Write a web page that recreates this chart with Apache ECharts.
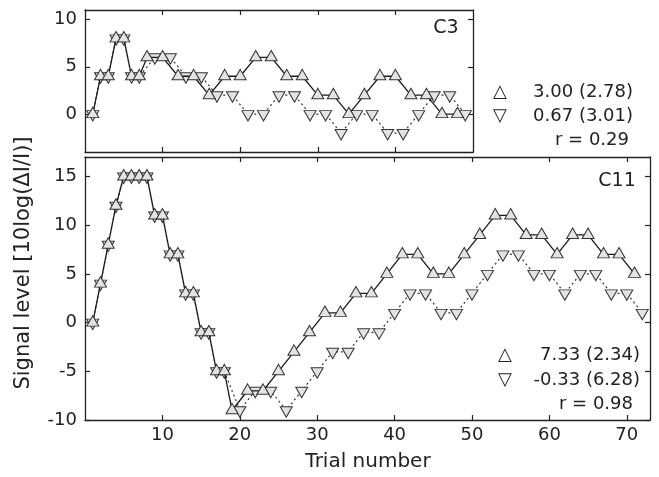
<!DOCTYPE html>
<html>
<head>
<meta charset="utf-8">
<script src="https://cdn.jsdelivr.net/npm/echarts@6/dist/echarts.min.js"></script>
<style>
html,body{margin:0;padding:0;background:#fff;}
#chart{width:659px;height:477px;}
</style>
</head>
<body>
<div id="chart"></div>
<script>
// ---- Data: panel C3 ----
const c3UpTrials   = [1,2,3,4,5,6,7,8,10,12,14,16,18,20,22,24,26,28,30,32,34,36,38,40,42,44,46,48];
const c3UpValues   = [0,4,4,8,8,4,4,6,6,4,4,2,4,4,6,6,4,4,2,2,0,2,4,4,2,2,0,0];
const c3DownTrials = [1,2,3,4,5,6,7,9,11,13,15,17,19,21,23,25,27,29,31,33,35,37,39,41,43,45,47,49];
const c3DownValues = [0,4,4,8,8,4,4,6,6,4,4,2,2,0,0,2,2,0,0,-2,0,0,-2,-2,0,2,2,0];

// ---- Data: panel C11 ----
const c11UpTrials   = [1,2,3,4,5,6,7,8,9,10,11,12,13,14,15,16,17,18,19,21,23,25,27,29,31,33,35,37,39,41,43,45,47,49,51,53,55,57,59,61,63,65,67,69,71];
const c11UpValues   = [0,4,8,12,15,15,15,15,11,11,7,7,3,3,-1,-1,-5,-5,-9,-7,-7,-5,-3,-1,1,1,3,3,5,7,7,5,5,7,9,11,11,9,9,7,9,9,7,7,5];
const c11DownTrials = [1,2,3,4,5,6,7,8,9,10,11,12,13,14,15,16,17,18,20,22,24,26,28,30,32,34,36,38,40,42,44,46,48,50,52,54,56,58,60,62,64,66,68,70,72];
const c11DownValues = [0,4,8,12,15,15,15,15,11,11,7,7,3,3,-1,-1,-5,-5,-9,-7,-7,-9,-7,-5,-3,-3,-1,-1,1,3,3,1,1,3,5,7,7,5,5,3,5,5,3,3,1];

// ---- Tick labels & annotations ----
const xTickValues = [10,20,30,40,50,60,70];
const c3XTicks = [10,20,30,40];
const c3YTicks = [0,5,10];
const c11YTicks = [-10,-5,0,5,10,15];
const c3Stats = ['3.00 (2.78)', '0.67 (3.01)', 'r = 0.29'];
const c11Stats = ['7.33 (2.34)', '-0.33 (6.28)', 'r = 0.98'];

const FONT = 'DejaVu Sans';
const TXT = '#222';
const AX = '#222';

function pairs(xs, ys){ return xs.map((x,i)=>[x, ys[i]]); }

function xAx(gridIndex, max, ticks, pos, labels){
  return {
    type:'value', gridIndex, min:0, max, position:pos,
    axisLine:{show:true, onZero:false, lineStyle:{color:AX, width:1.3}},
    axisTick:{show:true, inside:true, length:5, customValues:ticks, lineStyle:{color:AX, width:1.2}},
    axisLabel:{show:labels, customValues:ticks, margin:6, color:TXT, fontFamily:FONT, fontSize:18},
    splitLine:{show:false}
  };
}
function yAx(gridIndex, min, max, ticks, pos, labels){
  return {
    type:'value', gridIndex, min, max, position:pos,
    axisLine:{show:true, onZero:false, lineStyle:{color:AX, width:1.3}},
    axisTick:{show:true, inside:true, length:5, customValues:ticks, lineStyle:{color:AX, width:1.2}},
    axisLabel:{show:labels, customValues:ticks, margin:8, color:TXT, fontFamily:FONT, fontSize:18},
    splitLine:{show:false}
  };
}

const markerFill = '#e3e3e3';
const markerStroke = '#333';
const UP_PATH = 'path://M6,0 L12,10.4 L0,10.4 Z';
const DOWN_PATH = 'path://M0,0 L12,0 L6,10.4 Z';
function upSeries(xi, yi, data){
  return {
    type:'line', xAxisIndex:xi, yAxisIndex:yi, data,
    symbol:UP_PATH, symbolSize:[12,10.4], symbolOffset:[0,-1.7], showAllSymbol:true,
    lineStyle:{color:'#1a1a1a', width:1.3, type:'solid'},
    itemStyle:{color:markerFill, borderColor:markerStroke, borderWidth:1},
    z:3, silent:true
  };
}
function downSeries(xi, yi, data){
  return {
    type:'line', xAxisIndex:xi, yAxisIndex:yi, data,
    symbol:DOWN_PATH, symbolSize:[12,10.4], symbolOffset:[0,1.7], showAllSymbol:true,
    lineStyle:{color:'#333', width:1.2, type:[2,3]},
    itemStyle:{color:markerFill, borderColor:markerStroke, borderWidth:1},
    z:2, silent:true
  };
}

function txt(x, y, s, align, size){
  return {type:'text', x, y, style:{text:s, fill:TXT, font:(size||18)+'px "'+FONT+'"', textAlign:align||'left', textVerticalAlign:'middle'}};
}

const chart = echarts.init(document.getElementById('chart'), null, {renderer:'canvas'});
chart.setOption({
  animation:false,
  backgroundColor:'#fff',
  grid:[
    {left:85, top:10, width:388, height:142},
    {left:85, top:157, width:565, height:263}
  ],
  xAxis:[
    xAx(0, 50, c3XTicks, 'bottom', false),
    xAx(0, 50, c3XTicks, 'top', false),
    xAx(1, 73, xTickValues, 'bottom', true),
    xAx(1, 73, xTickValues, 'top', false)
  ],
  yAxis:[
    yAx(0, -4, 11, c3YTicks, 'left', true),
    yAx(0, -4, 11, c3YTicks, 'right', false),
    yAx(1, -10, 17, c11YTicks, 'left', true),
    yAx(1, -10, 17, c11YTicks, 'right', false)
  ],
  series:[
    downSeries(0, 0, pairs(c3DownTrials, c3DownValues)),
    upSeries(0, 0, pairs(c3UpTrials, c3UpValues)),
    downSeries(2, 2, pairs(c11DownTrials, c11DownValues)),
    upSeries(2, 2, pairs(c11UpTrials, c11UpValues))
  ],
  graphic:[
    txt(446, 28, 'C3', 'center', 19),
    txt(617, 181, 'C11', 'center', 19),
    txt(500, 92, '△', 'center'),
    txt(633, 92, c3Stats[0], 'right'),
    txt(500, 116, '▽', 'center'),
    txt(633, 116, c3Stats[1], 'right'),
    txt(629, 140, c3Stats[2], 'right'),
    txt(505, 355, '△', 'center'),
    txt(640, 355, c11Stats[0], 'right'),
    txt(505, 380, '▽', 'center'),
    txt(640, 380, c11Stats[1], 'right'),
    txt(633, 404, c11Stats[2], 'right'),
    txt(368, 462, 'Trial number', 'center', 20),
    {type:'text', x:24, y:263, rotation:Math.PI/2,
     style:{text:'Signal level [10log(ΔI/I)]', fill:TXT, font:'21px "'+FONT+'"', textAlign:'center', textVerticalAlign:'middle'}}
  ]
});
</script>
</body>
</html>
